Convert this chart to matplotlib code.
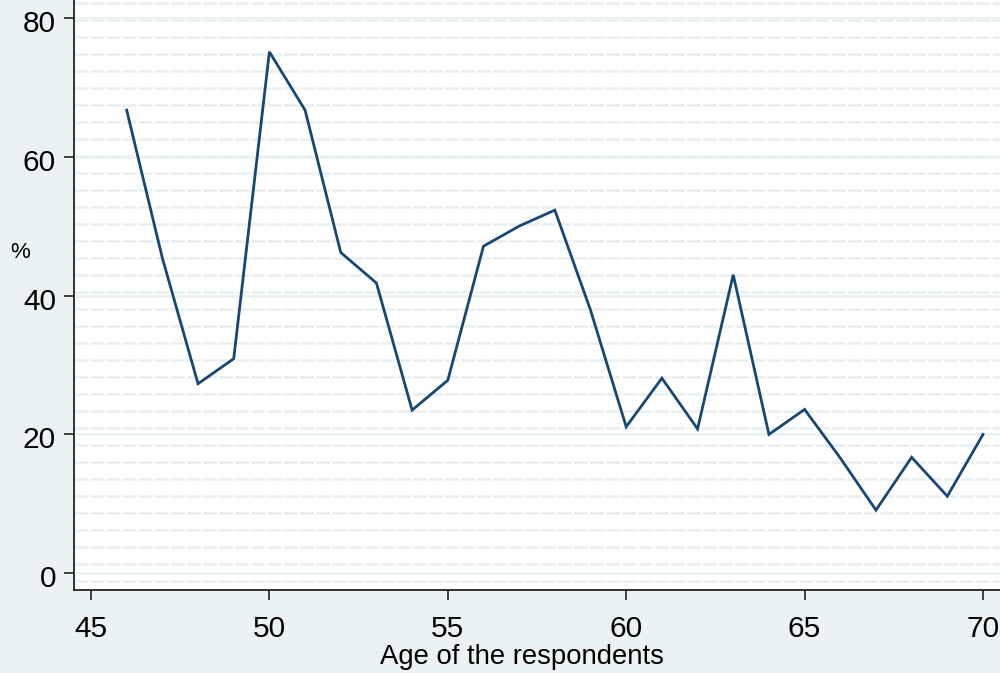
import matplotlib
matplotlib.use("Agg")
import matplotlib.pyplot as plt
from matplotlib.transforms import ScaledTranslation

# Data
ages = [46, 47, 48, 49, 50, 51, 52, 53, 54, 55, 56, 57, 58,
        59, 60, 61, 62, 63, 64, 65, 66, 67, 68, 69, 70]
percent = [66.7, 45.4, 27.3, 30.9, 75.1, 66.7, 46.2, 41.8, 23.5, 27.8, 47.1, 50.0, 52.3,
           37.9, 21.1, 28.1, 20.8, 43.0, 20.0, 23.6, 16.6, 9.1, 16.7, 11.1, 20.0]
x_ticks = [45, 50, 55, 60, 65, 70]
y_ticks = [0, 20, 40, 60, 80]

plt.rcParams['font.family'] = ['Liberation Sans', 'DejaVu Sans']
plt.rcParams['lines.scale_dashes'] = False

bg = '#eaf2f3'
fig = plt.figure(figsize=(10, 6.73), dpi=100, facecolor=bg)
ax = fig.add_axes([0.074, 1 - 590 / 673, 0.926, 590 / 673])
ax.set_facecolor('white')

ax.set_xlim(44.524, 70.476)
ax.set_ylim(-2.405, 82.56)

# background pattern lines (style)
for k in range(35):
    yy = -1.066 + 2.445 * k
    ax.axhline(yy, color='#e9f0f2', lw=1.9, dashes=(10, 1.6), zorder=0.5)
for t in y_ticks:
    ax.axhline(t, color=bg, lw=2.0, zorder=0.6)

ax.plot(ages, percent, color='#1a476f', lw=2.0, zorder=3, solid_joinstyle='miter')

ax.set_xticks(x_ticks)
ax.set_yticks(y_ticks)
ax.tick_params(axis='both', labelsize=21.5, width=1.2, length=7.5, color='#222222')
ax.tick_params(axis='y', pad=5.5)
ax.tick_params(axis='x', pad=10.5)
for s in ['top', 'right']:
    ax.spines[s].set_visible(False)
for s in ['left', 'bottom']:
    ax.spines[s].set_linewidth(1.3)
    ax.spines[s].set_color('#222222')

off = ScaledTranslation(0, -3 / 100, fig.dpi_scale_trans)
for lab in ax.get_yticklabels():
    lab.set_transform(lab.get_transform() + off)

fig.text(0.522, (673 - 664) / 673, 'Age of the respondents', ha='center', va='baseline',
         fontsize=19.8)
fig.text(0.020, 1 - 253 / 673, '%', ha='center', va='center', fontsize=16)

fig.savefig('out.png', dpi=100, facecolor=bg)
